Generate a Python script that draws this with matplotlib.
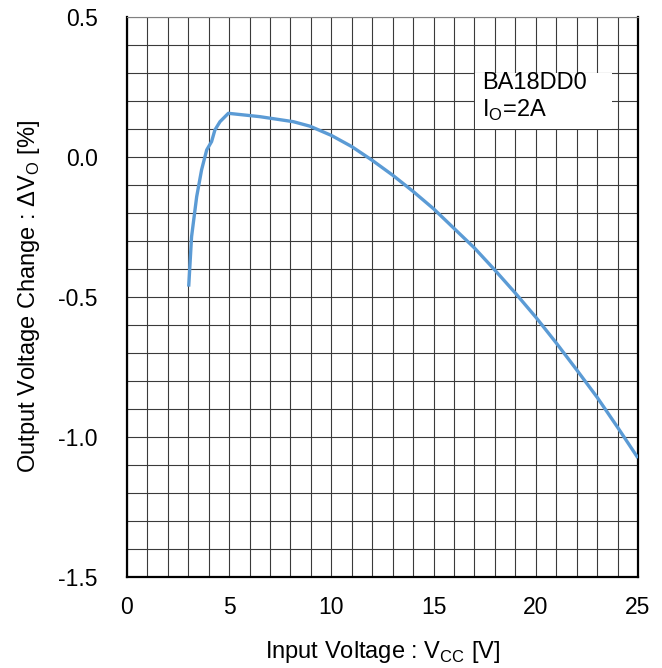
import matplotlib.pyplot as plt
import numpy as np
from matplotlib.patches import Rectangle

plt.rcParams['font.family'] = ['Liberation Sans', 'DejaVu Sans']

# input voltage [V] and output voltage change [%]
vcc = [3.02, 3.16, 3.41, 3.65, 3.9, 4.14, 4.3, 4.55, 4.96, 6.5, 8.14, 8.95,
       10.0, 11.0, 12.0, 13.0, 14.0, 15.0, 16.0, 17.0, 18.0, 19.0, 20.0,
       21.0, 22.0, 23.0, 24.0, 25.0]
dvo = [-0.463, -0.285, -0.142, -0.046, 0.025, 0.055, 0.096, 0.126, 0.156,
       0.144, 0.126, 0.11, 0.077, 0.037, -0.012, -0.065, -0.123, -0.185,
       -0.255, -0.325, -0.404, -0.486, -0.572, -0.664, -0.760, -0.858,
       -0.965, -1.075]

xticks = [0, 5, 10, 15, 20, 25]
yticks = [0.5, 0.0, -0.5, -1.0, -1.5]

fig = plt.figure(figsize=(6.62, 6.68), dpi=100)
ax = fig.add_axes([0.1918, 0.1362, 0.7719, 0.8384])

ax.plot(vcc, dvo, color='#5B9BD5', lw=2.4, zorder=3, solid_capstyle='butt')

ax.set_xlim(0, 25)
ax.set_ylim(-1.5, 0.5)
ax.set_xticks(xticks)
ax.set_yticks(yticks)
ax.set_yticklabels(['%.1f' % v for v in yticks])
ax.set_xticks(np.arange(0, 26, 1), minor=True)
ax.set_yticks(np.arange(-1.5, 0.51, 0.1), minor=True)
ax.grid(which='both', color='#3a3a3a', lw=0.8)
ax.tick_params(which='both', length=0, labelsize=16.5)
ax.tick_params(axis='y', pad=21)
ax.tick_params(axis='x', pad=14)

for s in ['left', 'bottom', 'right']:
    ax.spines[s].set_linewidth(1.6)
ax.spines['top'].set_color('#808080')

ax.set_xlabel('Input Voltage : V$_{\\mathregular{CC}}$ [V]', fontsize=17, labelpad=14)
ax.set_ylabel('Output Voltage Change : ΔV$_{\\mathregular{O}}$ [%]', fontsize=17, labelpad=12)

# legend box
ax.add_patch(Rectangle((17.03, 0.1), 6.7, 0.2, fc='white', ec='none', zorder=4))
ax.text(17.37, 0.243, 'BA18DD0', fontsize=17, va='baseline', ha='left', zorder=5)
ax.text(17.37, 0.143, 'I$_{\\mathregular{O}}$=2A', fontsize=17, va='baseline', ha='left', zorder=5)

fig.savefig('out.png', dpi=100)
